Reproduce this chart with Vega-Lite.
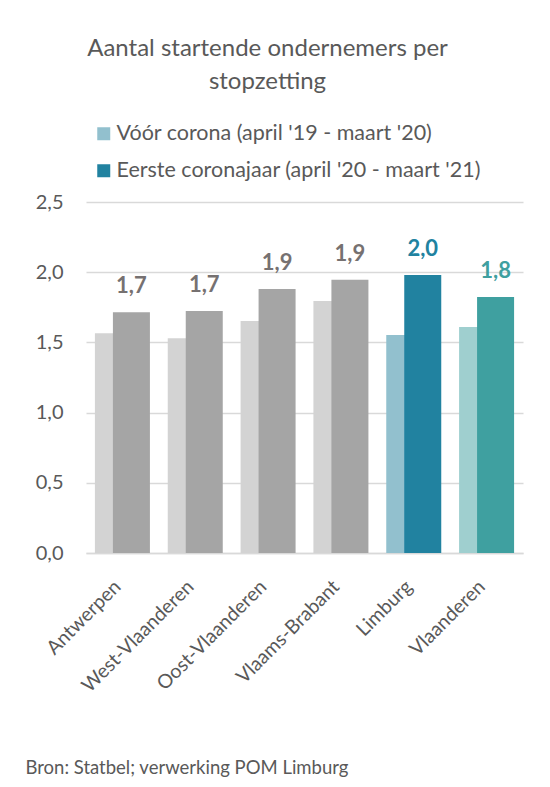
{
  "$schema": "https://vega.github.io/schema/vega-lite/v6.json",
  "autosize": {"type": "none"},
  "width": 437,
  "height": 351,
  "padding": {"left": 86, "top": 202, "right": 27, "bottom": 234},
  "background": "white",
  "title": {
    "text": ["Aantal startende ondernemers per", "stopzetting"],
    "anchor": "middle",
    "dx": -37,
    "offset": 29,
    "font": "Lato",
    "fontSize": 24,
    "fontWeight": "normal",
    "color": "#595959",
    "lineHeight": 33
  },
  "data": {
    "values": [
      {"regio": "Antwerpen", "periode": "Vóór corona (april '19 - maart '20)", "waarde": 1.565},
      {"regio": "Antwerpen", "periode": "Eerste coronajaar (april '20 - maart '21)", "waarde": 1.714},
      {"regio": "West-Vlaanderen", "periode": "Vóór corona (april '19 - maart '20)", "waarde": 1.53},
      {"regio": "West-Vlaanderen", "periode": "Eerste coronajaar (april '20 - maart '21)", "waarde": 1.723},
      {"regio": "Oost-Vlaanderen", "periode": "Vóór corona (april '19 - maart '20)", "waarde": 1.652},
      {"regio": "Oost-Vlaanderen", "periode": "Eerste coronajaar (april '20 - maart '21)", "waarde": 1.88},
      {"regio": "Vlaams-Brabant", "periode": "Vóór corona (april '19 - maart '20)", "waarde": 1.795},
      {"regio": "Vlaams-Brabant", "periode": "Eerste coronajaar (april '20 - maart '21)", "waarde": 1.946},
      {"regio": "Limburg", "periode": "Vóór corona (april '19 - maart '20)", "waarde": 1.553},
      {"regio": "Limburg", "periode": "Eerste coronajaar (april '20 - maart '21)", "waarde": 1.98},
      {"regio": "Vlaanderen", "periode": "Vóór corona (april '19 - maart '20)", "waarde": 1.61},
      {"regio": "Vlaanderen", "periode": "Eerste coronajaar (april '20 - maart '21)", "waarde": 1.823}
    ]
  },
  "transform": [
    {"calculate": "datum.regio == 'Limburg' ? datum.periode : (datum.regio == 'Vlaanderen' ? 'Vlaanderen ' + datum.periode : 'Overig ' + datum.periode)", "as": "kleur"},
    {"calculate": "indexof(datum.periode, 'Eerste') == 0 ? 'na' : 'voor'", "as": "fase"}
  ],
  "encoding": {
    "x": {
      "field": "regio",
      "type": "nominal",
      "sort": null,
      "scale": {"paddingInner": 0, "paddingOuter": 0},
      "axis": {
        "title": "Bron: Statbel; verwerking POM Limburg",
        "titleAnchor": "start",
        "titleAlign": "left",
        "titleBaseline": "alphabetic",
        "titleX": -61,
        "titleY": 220,
        "titleFont": "Lato",
        "titleFontSize": 18.5,
        "titleFontWeight": "normal",
        "titleColor": "#595959",
        "labelAngle": -45,
        "labelFont": "Lato",
        "labelFontSize": 19.5,
        "labelColor": "#595959",
        "labelPadding": 24,
        "labelOffset": -11,
        "ticks": false,
        "domainColor": "#D9D9D9",
        "domainWidth": 1.3
      }
    },
    "y": {
      "field": "waarde",
      "type": "quantitative",
      "scale": {"domain": [0, 2.5]},
      "axis": {
        "title": null,
        "values": [0, 0.5, 1, 1.5, 2, 2.5],
        "format": ".1f",
        "labelFont": "Lato",
        "labelFontSize": 20,
        "labelColor": "#595959",
        "labelPadding": 23,
        "ticks": false,
        "domain": false,
        "gridColor": "#D9D9D9",
        "gridWidth": 1.3
      }
    }
  },
  "layer": [
    {
      "transform": [{"filter": "datum.fase == 'voor'"}],
      "mark": {"type": "bar", "width": 37, "xOffset": -9},
      "encoding": {
        "color": {
          "field": "kleur",
          "type": "nominal",
          "scale": {
            "domain": ["Vóór corona (april '19 - maart '20)", "Eerste coronajaar (april '20 - maart '21)", "Overig Vóór corona (april '19 - maart '20)", "Overig Eerste coronajaar (april '20 - maart '21)", "Vlaanderen Vóór corona (april '19 - maart '20)", "Vlaanderen Eerste coronajaar (april '20 - maart '21)"],
            "range": ["#92C0CE", "#2182A0", "#D3D3D3", "#A5A5A5", "#9FCFCF", "#3FA0A0"]
          },
          "legend": {
            "values": ["Vóór corona (april '19 - maart '20)", "Eerste coronajaar (april '20 - maart '21)"],
            "title": null,
            "orient": "none",
            "legendX": 7,
            "legendY": -79,
            "direction": "vertical",
            "symbolType": "square",
            "symbolSize": 169,
            "symbolStrokeWidth": 0,
            "labelFont": "Lato",
            "labelFontSize": 21.5,
            "labelColor": "#595959",
            "labelOffset": 2,
            "rowPadding": 14,
            "labelLimit": 500
          }
        }
      }
    },
    {
      "transform": [{"filter": "datum.fase == 'na'"}],
      "mark": {"type": "bar", "width": 37, "xOffset": 9},
      "encoding": {
        "color": {"field": "kleur", "type": "nominal"}
      }
    },
    {
      "transform": [{"filter": "datum.fase == 'na'"}],
      "mark": {"type": "text", "xOffset": 9, "dy": -19, "baseline": "alphabetic", "font": "Lato", "fontSize": 22, "fontWeight": "bold"},
      "encoding": {
        "text": {"field": "waarde", "type": "quantitative", "format": ".1f"},
        "color": {
          "condition": [
            {"test": "datum.regio == 'Limburg'", "value": "#2182A0"},
            {"test": "datum.regio == 'Vlaanderen'", "value": "#3FA0A0"}
          ],
          "value": "#767171"
        }
      }
    }
  ],
  "config": {
    "view": {"stroke": null},
    "locale": {"number": {"decimal": ",", "thousands": ".", "grouping": [3], "currency": ["€", ""]}}
  }
}
